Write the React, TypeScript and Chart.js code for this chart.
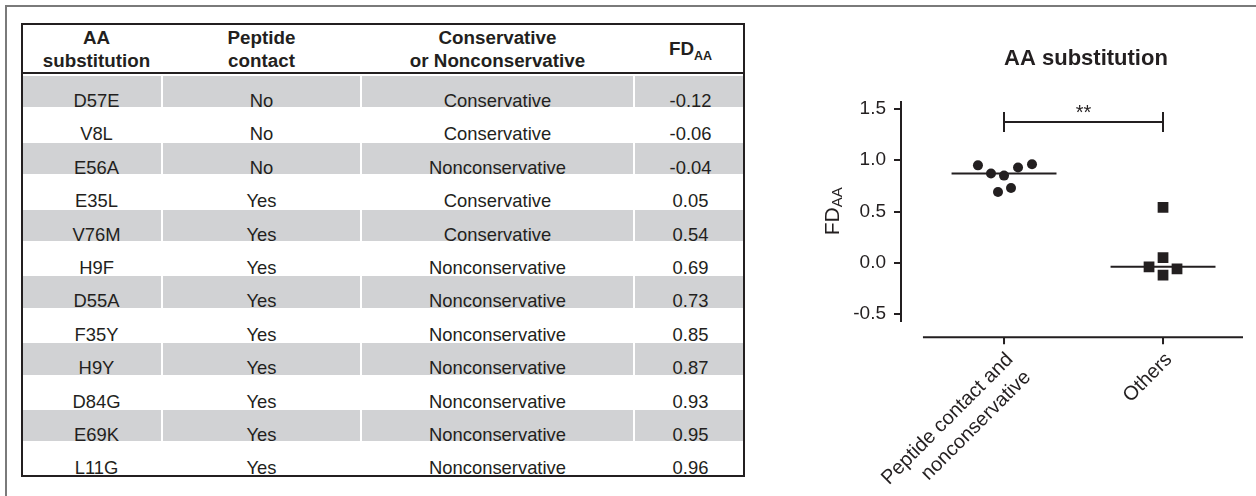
import React, { useEffect, useRef } from "react";
import { Chart, registerables } from "chart.js";

Chart.register(...registerables);

const FONT = '"Liberation Sans", Arial, Helvetica, sans-serif';
const INK = "#231f20";
const SHADE = "#d1d2d4";
const FRAME = "#7a7a7a";

// ---- Table data ----
const headerLines = [["AA", "substitution"], ["Peptide", "contact"], ["Conservative", "or Nonconservative"]];
const fdHeaderMain = "FD";
const fdHeaderSub = "AA";
const substitutions = ["D57E", "V8L", "E56A", "E35L", "V76M", "H9F", "D55A", "F35Y", "H9Y", "D84G", "E69K", "L11G"];
const peptideContact = ["No", "No", "No", "Yes", "Yes", "Yes", "Yes", "Yes", "Yes", "Yes", "Yes", "Yes"];
const conservation = [
  "Conservative", "Conservative", "Nonconservative", "Conservative", "Conservative", "Nonconservative",
  "Nonconservative", "Nonconservative", "Nonconservative", "Nonconservative", "Nonconservative", "Nonconservative",
];
const fdLabels = ["-0.12", "-0.06", "-0.04", "0.05", "0.54", "0.69", "0.73", "0.85", "0.87", "0.93", "0.95", "0.96"];

// ---- Chart data ----
const chartTitle = "AA substitution";
const groupLabels = [["Peptide contact and", "nonconservative"], "Others"];
const groupPositions = [0, 1];
const group1Values = [0.95, 0.87, 0.85, 0.93, 0.96, 0.69, 0.73];
const group1Jitter = [-0.164, -0.082, 0, 0.088, 0.176, -0.038, 0.044];
const group2Values = [0.54, 0.05, -0.04, -0.06, -0.12];
const group2Jitter = [0, 0, -0.088, 0.088, 0];
const groupMedians = [0.87, -0.04];
const medianHalfWidth = 0.33;
const yTicks = [-0.5, 0, 0.5, 1.0, 1.5];
const yMin = -0.565;
const yMax = 1.568;
const xMin = -0.648;
const xMax = 1.503;
const xAxisStart = -0.51;
const significance = "**";
const bracketValue = 1.373;
const bracketCap = 0.098;

// ---- Table geometry ----
const colWidths = [139, 199, 273, 109];
const colLefts = [0, 139, 338, 611];
const colShift = [4, 0, 0, 2];
const HEADER_H = 47;
const ROW_H = 33.4;

function Table() {
  const rows = substitutions.map((s, i) => [s, peptideContact[i], conservation[i], fdLabels[i]]);
  const innerW = colWidths.reduce((a, b) => a + b, 0);
  const innerH = HEADER_H + 2 + rows.length * ROW_H;
  return (
    <div
      style={{
        position: "absolute",
        left: 21,
        top: 23,
        width: innerW,
        height: innerH,
        border: `2px solid ${INK}`,
        fontSize: 18.4,
        color: INK,
      }}
    >
      {/* header */}
      <div style={{ position: "absolute", left: 0, top: 0, width: innerW, height: HEADER_H, borderBottom: `2px solid ${INK}` }}>
        {headerLines.map((lines, j) => (
          <div
            key={j}
            style={{
              position: "absolute",
              left: colLefts[j] + colShift[j],
              width: colWidths[j],
              top: 0,
              height: HEADER_H,
              display: "flex",
              flexDirection: "column",
              alignItems: "center",
              justifyContent: "center",
              fontWeight: "bold",
              fontSize: 18.8,
              lineHeight: "23px",
              textAlign: "center",
            }}
          >
            {lines.map((l, k) => (
              <div key={k} style={{ whiteSpace: "nowrap" }}>{l}</div>
            ))}
          </div>
        ))}
        <div
          style={{
            position: "absolute",
            left: colLefts[3] + colShift[3],
            width: colWidths[3],
            top: 0,
            height: HEADER_H,
            display: "flex",
            alignItems: "center",
            justifyContent: "center",
            fontWeight: "bold",
            fontSize: 18.8,
          }}
        >
          <span>
            {fdHeaderMain}
            <span style={{ fontSize: 12.5, position: "relative", top: 5 }}>{fdHeaderSub}</span>
          </span>
        </div>
      </div>
      {/* body */}
      {rows.map((cells, i) => (
        <div
          key={i}
          style={{ position: "absolute", left: 0, top: HEADER_H + 2 + i * ROW_H, width: innerW, height: ROW_H }}
        >
          {cells.map((c, j) => (
            <div
              key={j}
              style={{ position: "absolute", left: colLefts[j], top: 0, width: colWidths[j], height: ROW_H }}
            >
              {i % 2 === 0 && (
                <div
                  style={{
                    position: "absolute",
                    left: j === 0 ? 0 : 1,
                    right: j === 3 ? 0 : 1,
                    top: 2,
                    bottom: 0,
                    background: SHADE,
                  }}
                />
              )}
              <div
                style={{
                  position: "absolute",
                  left: colShift[j],
                  width: colWidths[j],
                  top: 16,
                  height: 21,
                  lineHeight: "21px",
                  textAlign: "center",
                  whiteSpace: "nowrap",
                }}
              >
                {c}
              </div>
            </div>
          ))}
        </div>
      ))}
    </div>
  );
}

export default function App() {
  const canvasRef = useRef<HTMLCanvasElement>(null);

  useEffect(() => {
    const canvas = canvasRef.current;
    if (!canvas) return;
    Chart.defaults.font.family = FONT;
    Chart.defaults.color = INK;

    const decor = {
      id: "decor",
      afterDatasetsDraw(chart: any) {
        const { ctx, chartArea, scales } = chart;
        const xs = scales.x;
        const ys = scales.y;
        ctx.save();
        ctx.strokeStyle = INK;
        ctx.lineWidth = 2;
        // detached x axis
        const yLine = chartArea.bottom + 16.5;
        const xStartPx = xs.getPixelForValue(xAxisStart);
        ctx.beginPath();
        ctx.moveTo(xStartPx, yLine);
        ctx.lineTo(chartArea.right, yLine);
        groupPositions.forEach((v) => {
          const px = xs.getPixelForValue(v);
          ctx.moveTo(px, yLine);
          ctx.lineTo(px, yLine + 7);
        });
        ctx.stroke();

        ctx.fillStyle = INK;
        // title
        ctx.font = `bold 22px ${FONT}`;
        ctx.textAlign = "center";
        ctx.textBaseline = "middle";
        ctx.fillText(chartTitle, (xStartPx + chartArea.right) / 2 + 3, 59);

        // significance stars
        ctx.font = `20px ${FONT}`;
        ctx.textBaseline = "alphabetic";
        ctx.fillText(
          significance,
          (xs.getPixelForValue(groupPositions[0]) + xs.getPixelForValue(groupPositions[1])) / 2,
          ys.getPixelForValue(bracketValue) - 3
        );

        // y axis title FD with subscript AA
        const cy = (ys.top + ys.bottom) / 2;
        const cx = chartArea.left - 62;
        ctx.translate(cx, cy);
        ctx.rotate(-Math.PI / 2);
        ctx.font = `21px ${FONT}`;
        const w1 = ctx.measureText("FD").width;
        ctx.font = `15px ${FONT}`;
        const w2 = ctx.measureText("AA").width;
        const start = -(w1 + w2) / 2;
        ctx.textAlign = "left";
        ctx.font = `21px ${FONT}`;
        ctx.fillText("FD", start, 0);
        ctx.font = `15px ${FONT}`;
        ctx.fillText("AA", start + w1, 3);
        ctx.restore();
      },
    };

    const chart = new Chart(canvas, {
      type: "scatter",
      data: {
        datasets: [
          {
            data: group1Values.map((v, i) => ({ x: groupPositions[0] + group1Jitter[i], y: v })),
            pointStyle: "circle",
            pointRadius: 5,
            backgroundColor: INK,
            borderColor: INK,
            borderWidth: 0,
          },
          {
            data: group2Values.map((v, i) => ({ x: groupPositions[1] + group2Jitter[i], y: v })),
            pointStyle: "rect",
            pointRadius: 7.6,
            backgroundColor: INK,
            borderColor: INK,
            borderWidth: 0,
          },
          ...groupMedians.map((m, g) => ({
            data: [
              { x: groupPositions[g] - medianHalfWidth, y: m },
              { x: groupPositions[g] + medianHalfWidth, y: m },
            ],
            showLine: true,
            pointRadius: 0,
            borderColor: INK,
            borderWidth: 2,
          })),
          {
            data: [
              { x: groupPositions[0], y: bracketValue + bracketCap },
              { x: groupPositions[0], y: bracketValue - bracketCap },
              { x: groupPositions[0], y: bracketValue },
              { x: groupPositions[1], y: bracketValue },
              { x: groupPositions[1], y: bracketValue + bracketCap },
              { x: groupPositions[1], y: bracketValue - bracketCap },
            ],
            showLine: true,
            pointRadius: 0,
            borderColor: INK,
            borderWidth: 2,
          },
        ],
      },
      options: {
        animation: false,
        responsive: false,
        events: [],
        layout: { padding: { top: 102, left: 0, right: 13, bottom: 0 } },
        plugins: { legend: { display: false }, tooltip: { enabled: false }, title: { display: false } },
        scales: {
          x: {
            type: "linear",
            min: xMin,
            max: xMax,
            afterBuildTicks: (s: any) => {
              s.ticks = groupPositions.map((v) => ({ value: v }));
            },
            afterFit: (s: any) => {
              s.height = 175.3;
            },
            ticks: {
              callback: (_v: any, i: number) => groupLabels[i] as any,
              minRotation: 45,
              maxRotation: 45,
              padding: 27,
              labelOffset: 6,
              color: INK,
              font: { size: 20, lineHeight: 1.25 },
            },
            grid: { display: false, drawTicks: false },
            border: { display: false },
          },
          y: {
            min: yMin,
            max: yMax,
            afterBuildTicks: (s: any) => {
              s.ticks = yTicks.map((v) => ({ value: v }));
            },
            afterFit: (s: any) => {
              s.width = 121;
            },
            ticks: {
              callback: (v: any) => Number(v).toFixed(1),
              padding: 8,
              color: INK,
              font: { size: 19 },
            },
            grid: { drawOnChartArea: false, drawTicks: true, tickLength: 7, color: INK, lineWidth: 2 },
            border: { display: true, color: INK, width: 2 },
          },
        },
      },
      plugins: [decor],
    } as any);

    return () => chart.destroy();
  }, []);

  return (
    <div
      style={{
        position: "absolute",
        left: 0,
        top: 0,
        width: 1256,
        height: 496,
        background: "#fff",
        fontFamily: FONT,
        color: INK,
        overflow: "hidden",
      }}
    >
      <div
        style={{
          position: "absolute",
          left: 5,
          top: 5,
          width: 1400,
          height: 700,
          borderTop: `2px solid ${FRAME}`,
          borderLeft: `2px solid ${FRAME}`,
        }}
      />
      <Table />
      <canvas
        ref={canvasRef}
        width={476}
        height={496}
        style={{ position: "absolute", left: 780, top: 0, width: 476, height: 496 }}
      />
    </div>
  );
}
